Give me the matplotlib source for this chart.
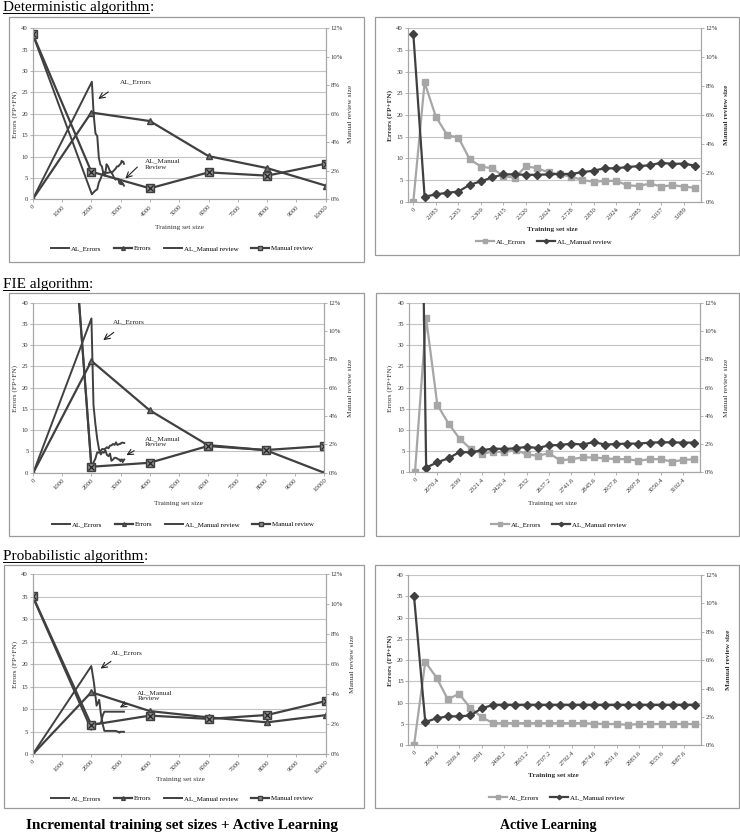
import matplotlib
matplotlib.use('Agg')
import matplotlib.pyplot as plt
from matplotlib.patches import Rectangle
from matplotlib.lines import Line2D

plt.rcParams['font.family'] = 'Liberation Serif'

W, H = 740, 836

# ---------------- data ----------------
# incremental training set sizes (left charts)
inc_x = [0, 2000, 4000, 6000, 8000, 10000]

det_errors = [0, 20.3, 18.3, 10.1, 7.3, 3.2]
det_review = [11.6, 1.94, 0.77, 1.89, 1.66, 2.5]  # %
fie_errors = [0, 26.3, 14.7, 6.5, 5.3, 0]
fie_review = [55, 0.42, 0.7, 1.88, 1.6, 1.88]
prob_errors = [0, 13.8, 9.6, 8.2, 7.1, 8.7]
prob_review = [10.55, 1.96, 2.58, 2.36, 2.62, 3.55]

# active learning runs (right charts, also drawn on the left ones)
det_al_x = [0, 2020, 2083, 2143, 2203, 2256, 2309, 2362, 2415, 2468, 2520, 2572, 2624,
            2676, 2728, 2779, 2830, 2877, 2924, 2955, 2985, 3011, 3037, 3063, 3089, 3115]
det_al_errors = [0, 27.5, 19.6, 15.4, 14.8, 9.8, 8.1, 7.7, 5.9, 5.5, 8.2, 7.7, 6.8,
                 6.3, 5.8, 5.0, 4.6, 4.8, 4.8, 3.8, 3.6, 4.2, 3.5, 3.8, 3.5, 3.2]
det_al_review = [11.6, 0.35, 0.5, 0.62, 0.7, 1.17, 1.41, 1.68, 1.89, 1.89, 1.86, 1.86, 1.89,
                 1.92, 1.92, 2.04, 2.15, 2.31, 2.31, 2.4, 2.46, 2.52, 2.7, 2.61, 2.64, 2.49]
det_labels = ['0', '2,083', '2,203', '2,309', '2,415', '2,520', '2,624', '2,728',
              '2,830', '2,924', '2,985', '3,037', '3,089']

fie_al_x = [0, 2000, 2070.4, 2135, 2199, 2260, 2321.4, 2374, 2426.4, 2479, 2532, 2585, 2637.2,
            2689, 2741.6, 2794, 2845.6, 2892, 2937.8, 2968, 2997.8, 3024, 3050.4, 3076, 3102.4, 3128]
fie_al_errors = [0, 36.3, 15.9, 11.5, 7.9, 5.5, 4.3, 4.9, 4.7, 5.3, 4.2, 3.9, 4.5,
                 2.8, 3.1, 3.5, 3.5, 3.3, 3.1, 3.1, 2.7, 3.1, 3.1, 2.5, 2.9, 3.1]
fie_al_review = [55, 0.33, 0.71, 0.99, 1.44, 1.41, 1.56, 1.68, 1.65, 1.7, 1.8, 1.72, 1.91,
                 1.93, 2.03, 1.96, 2.14, 1.96, 2.0, 2.03, 2.03, 2.1, 2.12, 2.12, 2.1, 2.1]
fie_labels = ['0', '2070.4', '2199', '2321.4', '2426.4', '2532', '2637.2', '2741.6',
              '2845.6', '2937.8', '2997.8', '3050.4', '3102.4']

prob_al_x = [0, 2000, 2090.4, 2180, 2269.4, 2330, 2391, 2445, 2498.2, 2551, 2603.2, 2655, 2707.2,
             2750, 2792.4, 2834, 2874.6, 2903, 2931.6, 2958, 2983.6, 3010, 3035.6, 3062, 3087.6, 3114]
prob_al_errors = [0, 19.6, 15.9, 10.8, 12.1, 8.8, 6.65, 5.2, 5.2, 5.2, 5.2, 5.2, 5.2,
                  5.2, 5.2, 5.2, 5.1, 5.0, 5.0, 4.8, 5.0, 5.0, 5.0, 5.0, 5.0, 5.0]
prob_al_review = [10.5, 1.64, 1.9, 2.04, 2.04, 2.1, 2.6, 2.84, 2.84, 2.84, 2.84, 2.84, 2.84,
                  2.84, 2.84, 2.84, 2.84, 2.84, 2.84, 2.84, 2.84, 2.84, 2.84, 2.84, 2.84, 2.84]
prob_labels = ['0', '2090.4', '2269.4', '2391', '2498.2', '2603.2', '2707.2', '2792.4',
               '2874.6', '2931.6', '2983.6', '3035.6', '3087.6']

DARK = '#404040'
LIGHT = '#a6a6a6'
AXC = '#a6a6a6'

fig = plt.figure(figsize=(W / 100, H / 100), dpi=100)


def fx(x):
    return x / W


def fy(y):
    return 1 - y / H


def box(x0, y0, x1, y1):
    fig.add_artist(Rectangle((fx(x0), fy(y1)), (x1 - x0) / W, (y1 - y0) / H,
                             transform=fig.transFigure, fill=False, ec='#9a9a9a', lw=0.9))


def axes_at(x0, y0, x1, y1):
    ax = fig.add_axes([fx(x0), fy(y1), (x1 - x0) / W, (y1 - y0) / H])
    ax2 = ax.twinx()
    ax.set_ylim(0, 40)
    ax.set_yticks(range(0, 41, 5))
    ax2.set_ylim(0, 12)
    ax2.set_yticks(range(0, 13, 2))
    ax2.set_yticklabels([f'{v}%' for v in range(0, 13, 2)])
    ax.grid(axis='y', color='#c4c4c4', lw=0.8)
    ax.set_axisbelow(True)
    for a in (ax, ax2):
        a.spines['top'].set_visible(False)
        for s in ('left', 'right', 'bottom'):
            a.spines[s].set_color(AXC)
            a.spines[s].set_linewidth(0.8)
        a.tick_params(labelsize=4.8, length=2, width=0.6, color=AXC, pad=1.5, labelcolor='#333333')
    return ax, ax2


def labels(xl, yl, yr, ylab_y, bold):
    w = 'bold' if bold else 'normal'
    fig.text(fx(xl[0]), fy(xl[1]), 'Training set size', ha='center', va='center',
             fontsize=5.3, weight=w, color='#333333')
    fig.text(fx(yl), fy(ylab_y), 'Errors (FP+FN)', rotation=90, ha='center', va='center',
             fontsize=5.3, weight=w, color='#333333')
    fig.text(fx(yr), fy(ylab_y), 'Manual review size', rotation=90, ha='center', va='center',
             fontsize=5.3, weight=w, color='#333333')


def draw_inc(rect, errors, review, al_x, al_errors, al_review, ann, lab, leg):
    ax, ax2 = axes_at(*rect)
    ax.set_xlim(0, 10000)
    ax.set_xticks(range(0, 10001, 1000))
    ax.set_xticklabels([str(v) for v in range(0, 10001, 1000)], rotation=45,
                       ha='right', rotation_mode='anchor')
    h1, = ax.plot(al_x, al_errors, color=DARK, lw=1.4)
    h2, = ax.plot(inc_x, errors, color=DARK, lw=1.6, marker='^', ms=4.5, mfc='#707070', mec=DARK)
    h3, = ax2.plot(al_x, al_review, color=DARK, lw=1.4)
    h4, = ax2.plot(inc_x, review, color=DARK, lw=1.6, marker='s', ms=5.5, mfc='#8c8c8c', mec=DARK)
    ax2.plot(inc_x, review, ls='none', marker='x', ms=4.2, mec='#262626', mew=0.9)
    (t1, a1, b1), (t2, a2, b2) = ann
    ax.text(*t1, 'AL_Errors', fontsize=5.2, va='center', color='#222222')
    ax.annotate('', xy=b1, xytext=a1, arrowprops=dict(arrowstyle='->', lw=0.8, color='#222222'))
    ax.text(*t2, 'AL_Manual\nReview', fontsize=5.2, va='center', color='#222222', linespacing=1.25)
    ax.annotate('', xy=b2, xytext=a2, arrowprops=dict(arrowstyle='->', lw=0.8, color='#222222'))
    labels(*lab, bold=False)
    fig.legend([h1, h2, h3, h4], ['AL_Errors', 'Errors', 'AL_Manual review', 'Manual review'],
               loc='center', bbox_to_anchor=(fx(leg[0]), fy(leg[1])), ncol=4, frameon=False,
               fontsize=5, markerscale=0.6, handlelength=2.6, columnspacing=1.8, handletextpad=0.3)


def draw_al(rect, errors, review, ticklabels, lab, leg, bold):
    ax, ax2 = axes_at(*rect)
    n = len(errors)
    ax.set_xlim(-0.5, n - 0.5)
    ax.set_xticks(range(0, n, 2))
    ax.set_xticklabels(ticklabels, rotation=45, ha='right', rotation_mode='anchor')
    h1, = ax.plot(range(n), errors, color=LIGHT, lw=1.6, marker='s', ms=5, mfc=LIGHT, mec=LIGHT)
    h2, = ax2.plot(range(n), review, color=DARK, lw=1.6, marker='D', ms=3.8, mfc=DARK, mec=DARK)
    labels(*lab, bold=bold)
    fig.legend([h1, h2], ['AL_Errors', 'AL_Manual review'], loc='center',
               bbox_to_anchor=(fx(leg[0]), fy(leg[1])), ncol=2, frameon=False,
               fontsize=5, markerscale=0.6, handlelength=2.6, columnspacing=1.5, handletextpad=0.3)


# boxes
box(9, 17, 364, 262)
box(375, 17, 739, 255)
box(9, 293, 364, 536)
box(376, 293, 739, 536)
box(4, 565, 364, 808)
box(375, 565, 739, 808)

# left charts
draw_inc((32.7, 28.3, 325.7, 199.3), det_errors, det_review, det_al_x, det_al_errors, det_al_review,
         [((2980, 27.5), (2660, 25.5), (2160, 23.1)), ((3830, 8.2), (3640, 8.0), (3095, 4.4))],
         ((179, 228), 15, 350, 114), (182, 248))
draw_inc((33.3, 302.7, 324, 472.7), fie_errors, fie_review, fie_al_x, fie_al_errors, fie_al_review,
         [((2750, 35.5), (2845, 33.4), (2330, 30.8)), ((3840, 7.35), (3555, 5.5), (3120, 3.8))],
         ((178, 503), 15, 350, 388), (183, 524))
draw_inc((32.7, 574.3, 325.7, 754.3), prob_errors, prob_review, prob_al_x, prob_al_errors, prob_al_review,
         [((2660, 22.6), (2750, 21.0), (2240, 18.7)), ((3570, 13.0), (3300, 11.6), (2890, 10.1))],
         ((180, 779), 15, 352, 664), (182, 798))

# right charts
draw_al((407.7, 28.3, 700.6, 201.7), det_al_errors, det_al_review, det_labels,
        ((552, 229), 390, 727, 115), (544, 241), True)
draw_al((409.4, 302.7, 699.9, 472.3), fie_al_errors, fie_al_review, fie_labels,
        ((552, 503), 390, 726, 388), (559, 524), False)
draw_al((408.4, 575, 701, 745.3), prob_al_errors, prob_al_review, prob_labels,
        ((553, 775), 390, 728, 660), (557, 797), True)

# underlined section headers
renderer = fig.canvas.get_renderer()
for name, x, y in [('Deterministic algorithm', 3, 11), ('FIE algorithm', 3, 288),
                   ('Probabilistic algorithm', 3, 560)]:
    t = fig.text(fx(x), fy(y), name, fontsize=11, va='baseline')
    bb = t.get_window_extent(renderer)
    fig.text(bb.x1 / W, fy(y), ':', fontsize=11, va='baseline')
    fig.add_artist(Line2D([bb.x0 / W, bb.x1 / W], [fy(y + 1.8)] * 2, transform=fig.transFigure,
                          color='black', lw=0.7))

fig.text(fx(182), fy(826), 'Incremental training set sizes + Active Learning', ha='center',
         va='center', fontsize=11, weight='bold')
fig.text(fx(548), fy(826), 'Active Learning', ha='center', va='center', fontsize=10, weight='bold')

fig.savefig('out.png', dpi=100, facecolor='white')
